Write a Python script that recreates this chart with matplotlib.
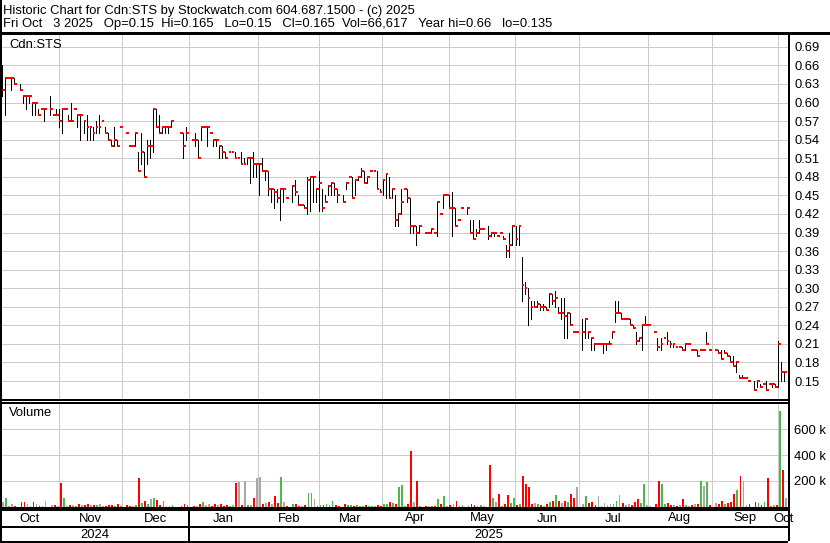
import numpy as np
import pandas as pd
import matplotlib
matplotlib.use('Agg')
import matplotlib.pyplot as plt
from matplotlib.collections import LineCollection

plt.rcParams['font.family'] = ['Liberation Sans', 'DejaVu Sans']

nan = np.nan
start_date = '2024-10-04'
end_date = '2025-10-03'

# ---- daily prices (one value per weekday, nan = no trade) ----
high = [
    # Oct 2024
    nan, .66, .64, .64, .64, .64, nan, .63, .61, .61, .61, .60, .60, .59, .59, .59, nan, .61, .58, .59,
    # Nov
    .59, .59, .59, .58, .60, .59, .58, .58, .57, .58, .56, .56, .57, .58, .57, .56, .55, .54, .56, .54, .56,
    # Dec
    nan, .55, .53, .53, .55, .52, .55, .52, .54, .54, .59, .59, .58, .56, .56, .56, .57, nan, nan, .55, .55, .56,
    # Jan 2025
    nan, .54, .55, .54, .56, .56, .56, .55, .54, .54, .53, .53, .52, .52, .52, .52, .51, .52, .51, .51, .51, .52, .50,
    # Feb
    .50, .51, .49, .49, .46, .46, .46, .46, .46, .445, nan, .465, .475, .45, .435, .435, .48, .48, .48, .46,
    # Mar
    .49, .46, .45, .465, .47, .47, .46, nan, .45, .47, .48, .48, .475, .48, .495, .49, .48, .49, .49, .49, .46,
    # Apr
    .475, .485, .48, .46, .45, .42, .46, .46, .46, .445, .40, .40, .40, nan, .39, .39, .395, .39, .44, .42, .45, .45,
    # May
    .45, .455, .43, .41, .43, nan, .43, .41, .41, .395, .41, .395, nan, .40, .39, .39, .385, .39, .385, .37, .39, .40,
    # Jun
    .40, .40, .35, .31, .30, .28, .28, .28, .275, .275, .27, .29, .29, .295, .27, .285, .285, .26, .26, .23, .23,
    # Jul
    nan, .25, .25, .23, .22, .21, .21, .21, .21, .21, .215, .23, .28, .28, .26, .25, .25, .25, .24, .23, .22, .24, .255,
    # Aug
    .24, nan, .23, .22, .22, .22, .23, .215, .21, .205, .205, .205, .21, .21, .20, .20, .20, .20, .20, .23, .20,
    # Sep
    nan, .20, .20, .20, .20, .195, .19, .19, .18, .16, .16, .155, .15, nan, .15, .15, .145, .145, .15, .145, .145, .145,
    # Oct
    .215, .18, .165,
]
low = [
    nan, .61, .58, .64, .62, .63, nan, .62, .60, .59, .60, .58, .58, .58, .59, .57, nan, .58, .58, .58,
    .56, .55, .59, .57, .57, .59, .56, .54, .55, .54, .54, .54, .55, .55, .57, .55, .54, .53, .53, .53, .56,
    nan, .55, .53, .53, .53, .49, .50, .48, .50, .51, .52, .56, .55, .55, .55, .55, .56, nan, nan, .55, .51, .54,
    nan, .54, .53, .51, .54, .56, .53, .55, .53, .53, .51, .51, .51, .52, .52, .51, .51, .50, .50, .50, .47, .48, .48,
    .45, .49, .475, .45, .44, .43, .44, .41, .44, .445, nan, .44, .45, .435, .435, .43, .42, .425, .44, .44,
    .425, .425, .44, .45, .45, .45, .44, nan, .44, .46, .48, .445, .45, .475, .48, .47, .47, .49, .49, .46, .455,
    .45, .445, .445, .445, .40, .40, .42, .46, .44, .39, .39, .37, .39, nan, .39, .39, .39, .39, .385, .42, .43, .45,
    .43, .385, .40, .41, .43, nan, .42, .39, .38, .385, .39, .395, nan, .38, .385, .385, .385, .39, .38, .35, .35, .37,
    .37, .37, .28, .29, .24, .25, .27, .27, .265, .265, .265, .27, .275, .27, .26, .25, .22, .22, .24, .23, .23,
    nan, .20, .22, .22, .20, .20, .21, .21, .195, .20, .21, .22, .245, .26, .25, .25, .25, .24, .235, .21, .215, .20, .24,
    .24, nan, .23, .20, .20, .22, .21, .205, .205, .205, .205, .20, .20, .21, .20, .20, .19, .20, .20, .21, .20,
    nan, .20, .195, .185, .195, .19, .18, .175, .165, .155, .155, .155, .15, nan, .135, .14, .14, .145, .135, .145, .14, .14,
    .14, .15, .15,
]
close = [
    nan, .62, .64, .64, .64, .63, nan, .62, .61, .61, .61, .60, .60, .58, .59, .59, nan, .59, .58, .58,
    .57, .59, .59, .57, .57, .59, .58, .58, .57, .56, .56, .55, .56, .56, .57, .55, .54, .53, .54, .53, .56,
    nan, .55, .53, .53, .55, .49, .52, .48, .53, .53, .59, .56, .55, .56, .56, .56, .57, nan, nan, .55, .53, .55,
    nan, .54, .54, .51, .56, .56, .56, .55, .54, .54, .53, .52, .51, .52, .52, .51, .51, .50, .50, .51, .51, .50, .50,
    .50, .49, .49, .46, .46, .455, .445, .46, .46, .445, nan, .465, .455, .435, .435, .43, .475, .48, .48, .46,
    .47, .43, .44, .465, .47, .46, .45, nan, .44, .47, .48, .445, .475, .48, .49, .47, .48, .49, .49, .46, .455,
    .475, .485, .445, .46, .41, .42, .44, .46, .445, .40, .40, .39, .40, nan, .39, .39, .395, .39, .44, .42, .45, .45,
    .43, .43, .40, .41, .43, nan, .43, .39, .38, .39, .395, .395, nan, .385, .39, .39, .385, .39, .38, .36, .37, .40,
    .38, .40, .305, .30, .285, .27, .27, .275, .27, .27, .265, .29, .28, .285, .26, .26, .255, .26, .24, .23, .23,
    nan, .23, .25, .23, .22, .21, .21, .21, .21, .21, .21, .23, .26, .26, .25, .25, .25, .24, .235, .215, .22, .24, .24,
    .24, nan, .23, .205, .21, .22, .215, .21, .21, .205, .205, .20, .21, .21, .20, .20, .19, .20, .20, .21, .20,
    nan, .20, .195, .185, .195, .19, .18, .175, .18, .155, .155, .155, .15, nan, .135, .15, .14, .145, .135, .145, .145, .14,
    .21, .165, .165,
]
# volume in thousands of shares
volume_k = [
    0, 37, 73, 10, 24, 8, 0, 37, 37, 24, 10, 37, 24, 8, 5, 44, 0, 17, 17, 5,
    183, 73, 5, 15, 12, 8, 20, 12, 17, 20, 17, 15, 12, 20, 10, 5, 12, 15, 10, 20, 5,
    0, 15, 10, 8, 12, 224, 34, 44, 20, 59, 73, 54, 15, 44, 8, 10, 12, 0, 0, 8, 24, 15,
    0, 10, 8, 20, 37, 15, 24, 8, 20, 15, 24, 10, 15, 10, 12, 188, 195, 15, 200, 12, 15, 68, 224,
    232, 20, 30, 37, 24, 85, 30, 232, 37, 10, 0, 24, 20, 10, 8, 15, 110, 110, 59, 10,
    15, 12, 20, 15, 44, 15, 10, 0, 20, 12, 15, 10, 12, 8, 10, 15, 8, 5, 5, 15, 10,
    20, 24, 37, 30, 20, 151, 166, 5, 24, 434, 37, 200, 10, 0, 5, 8, 10, 8, 61, 20, 85, 8,
    15, 20, 44, 10, 15, 0, 12, 20, 15, 10, 12, 8, 0, 324, 68, 37, 98, 10, 20, 90, 30, 73,
    12, 20, 240, 176, 150, 20, 34, 20, 15, 8, 24, 37, 49, 93, 49, 30, 49, 37, 102, 68, 150,
    0, 20, 85, 30, 37, 15, 85, 10, 34, 12, 20, 24, 49, 90, 30, 15, 24, 15, 37, 61, 30, 176, 15,
    10, 0, 24, 202, 176, 20, 34, 15, 12, 8, 15, 59, 15, 10, 12, 20, 24, 200, 158, 190, 12,
    0, 34, 20, 49, 24, 30, 37, 98, 134, 236, 200, 15, 24, 0, 37, 34, 15, 39, 224, 10, 15, 17,
    739, 288, 67,
]

price_ticks = [0.15, 0.18, 0.21, 0.24, 0.27, 0.30, 0.33, 0.36, 0.39, 0.42, 0.45,
               0.48, 0.51, 0.54, 0.57, 0.60, 0.63, 0.66, 0.69]
volume_ticks = [200, 400, 600]
volume_tick_labels = ['200 k', '400 k', '600 k']
title_line1 = 'Historic Chart for Cdn:STS by Stockwatch.com 604.687.1500 - (c) 2025'
title_line2 = ('Fri Oct   3 2025   Op=0.15  Hi=0.165   Lo=0.15   Cl=0.165  '
               'Vol=66,617   Year hi=0.66   lo=0.135')
symbol_label = 'Cdn:STS'
volume_label = 'Volume'

# ---- derived ----
dates = pd.bdate_range(start_date, end_date)
n = len(dates)
hi = np.array(high, float)
lo = np.array(low, float)
cl = np.array(close, float)
vol = np.array(volume_k, float)
idx = np.arange(n)

month_start = [i for i in range(n) if i == 0 or dates[i].month != dates[i - 1].month]
year_start = [i for i in range(n) if i > 0 and dates[i].year != dates[i - 1].year]

W, H = 830, 543
fig = plt.figure(figsize=(W / 100, H / 100), dpi=100)
fig.patch.set_facecolor('white')

def rect(x0, y0, x1, y1):
    return [x0 / W, 1 - y1 / H, (x1 - x0) / W, (y1 - y0) / H]

PX = 0.72  # one pixel in points
grid_c = '#cccccc'
XL = (0.46, 261.3)
fs = 9.4

# ---------- price panel ----------
ax = fig.add_axes(rect(0, 32, 788, 399))
ax.set_xlim(*XL)
ax.set_ylim(0.121, 0.714)
for s in ax.spines.values():
    s.set_visible(False)
ax.set_xticks([])
ax.yaxis.tick_right()
ax.set_yticks(price_ticks)
ax.set_yticklabels([f'{t:.2f}' for t in price_ticks])
ax.tick_params(axis='y', length=0, pad=4.5, labelsize=fs)
for t in price_ticks:
    ax.axhline(t, color=grid_c, lw=PX, zorder=0, antialiased=False)
for m in month_start[1:]:
    ax.axvline(m, color=grid_c, lw=PX, zorder=0, antialiased=False)

ok = ~np.isnan(cl)
segs_v = [[(i + 0.1, lo[i]), (i + 0.1, hi[i])] for i in idx[ok] if hi[i] > lo[i]]
ax.add_collection(LineCollection(segs_v, colors='black', linewidths=PX,
                                 antialiased=False, zorder=2))
segs_c = [[(i + 0.1, cl[i]), (i + 1.05, cl[i])] for i in idx[ok]]
ax.add_collection(LineCollection(segs_c, colors='#ff0000', linewidths=PX * 2,
                                 antialiased=False, zorder=3, capstyle='butt'))

# ---------- volume panel ----------
av = fig.add_axes(rect(0, 402, 788, 508))
av.set_xlim(*XL)
av.set_ylim(-7.7, 807.7)
for s in av.spines.values():
    s.set_visible(False)
av.set_xticks([])
av.yaxis.tick_right()
av.set_yticks(volume_ticks)
av.set_yticklabels(volume_tick_labels)
av.tick_params(axis='y', length=0, pad=4.5, labelsize=fs)
for t in volume_ticks:
    av.axhline(t, color=grid_c, lw=PX, zorder=0, antialiased=False)
for m in month_start[1:]:
    av.axvline(m, color=grid_c, lw=PX, zorder=0, antialiased=False)

prev = np.nan
colors = []
for i in range(n):
    c = cl[i]
    if np.isnan(c):
        colors.append('none')
        continue
    if np.isnan(prev) or c == prev:
        colors.append('#a8a8a8')
    elif c > prev:
        colors.append('#4db84d')
    else:
        colors.append('#ff0000')
    prev = c
vmask = (vol > 0) & ok
av.bar(idx[vmask] + 0.25, vol[vmask], width=0.6, bottom=0,
       color=[colors[i] for i in idx[vmask]], align='edge', linewidth=0,
       antialiased=False, zorder=2)

# ---------- overlay: frame, labels, month/year rows ----------
ov = fig.add_axes([0, 0, 1, 1], zorder=10)
ov.set_xlim(0, W)
ov.set_ylim(H, 0)
ov.axis('off')
ov.patch.set_alpha(0)

def px_x(d):
    return (d - XL[0]) / (XL[1] - XL[0]) * 788

lk = dict(color='black', antialiased=False, solid_capstyle='butt')
ov.plot([0, W], [32.5, 32.5], lw=PX * 3, **lk)
ov.plot([1, 1], [0, H], lw=PX * 2, **lk)
ov.plot([788.5, 788.5], [32, 541], lw=PX * 2, **lk)
ov.plot([0, 788], [399.5, 399.5], lw=PX * 1.5, **lk)
ov.plot([0, 788], [402.5, 402.5], lw=PX * 1.5, **lk)
ov.plot([0, 788], [509, 509], lw=PX * 2.5, **lk)
ov.plot([0, 788], [527, 527], lw=PX * 2, **lk)
ov.plot([0, 788], [541.5, 541.5], lw=PX * 2, **lk)
ys = px_x(year_start[0])
ov.plot([ys, ys], [509, 541], lw=PX * 2, **lk)

ov.text(3, 11, title_line1, fontsize=fs, va='center', ha='left')
ov.text(3, 24, title_line2, fontsize=fs, va='center', ha='left')
ov.text(9, 44.5, symbol_label, fontsize=fs, va='center', ha='left')
ov.text(9, 413, volume_label, fontsize=fs, va='center', ha='left')

bounds = [px_x(m) for m in month_start] + [788]
bounds[0] = 0
for k, m in enumerate(month_start):
    cx = (bounds[k] + bounds[k + 1]) / 2
    ov.text(cx, 518.5, dates[m].strftime('%b'), fontsize=fs, ha='center', va='center')
ybounds = [0, ys, 788]
years = [dates[0].year, dates[year_start[0]].year]
for k, yv in enumerate(years):
    ov.text((ybounds[k] + ybounds[k + 1]) / 2, 534.5, str(yv), fontsize=fs,
            ha='center', va='center')

fig.savefig('out.png', dpi=100, facecolor='white')
